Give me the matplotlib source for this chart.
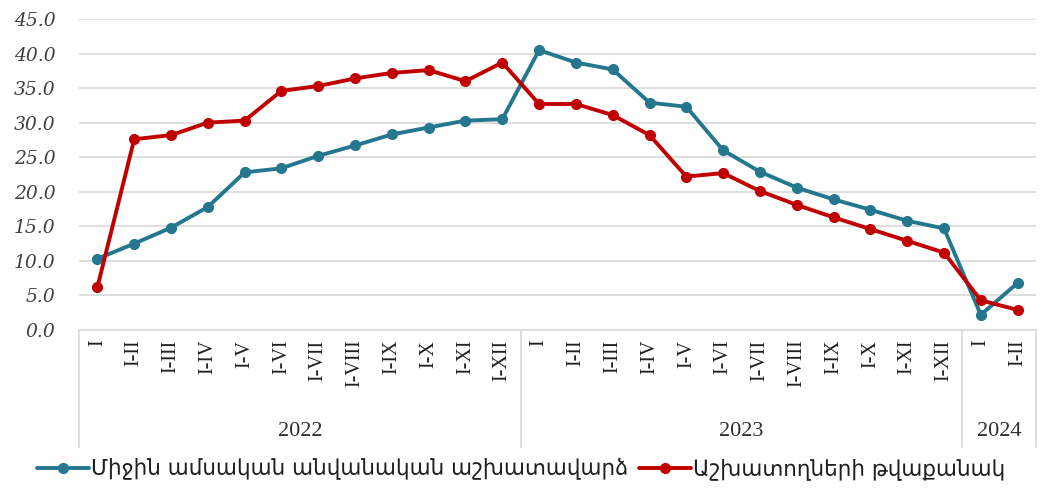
import matplotlib
matplotlib.use("Agg")
import matplotlib.pyplot as plt
from matplotlib.lines import Line2D

months = ["I", "I-II", "I-III", "I-IV", "I-V", "I-VI", "I-VII", "I-VIII", "I-IX", "I-X", "I-XI", "I-XII"]
tick_labels = months + months + ["I", "I-II"]
years = ["2022", "2023", "2024"]
year_counts = [12, 12, 2]

wage = [10.3, 12.5, 14.8, 17.8, 22.8, 23.4, 25.2, 26.7, 28.3, 29.3, 30.3, 30.5,
        40.5, 38.7, 37.7, 32.9, 32.3, 26.0, 22.9, 20.6, 18.9, 17.4, 15.8, 14.7,
        2.2, 6.8]
employees = [6.2, 27.6, 28.2, 30.0, 30.3, 34.6, 35.3, 36.4, 37.2, 37.6, 36.0, 38.7,
             32.7, 32.7, 31.1, 28.2, 22.2, 22.7, 20.1, 18.1, 16.3, 14.6, 12.9, 11.2,
             4.3, 2.9]
series_names = ["Միջին ամսական անվանական աշխատավարձ", "Աշխատողների թվաքանակ"]
colors = ["#24778f", "#c00000"]

W, H = 1042, 490
fig = plt.figure(figsize=(W / 100, H / 100), dpi=100)
L, R, T, B = 79, 1036, 19, 330
ax = fig.add_axes([L / W, 1 - B / H, (R - L) / W, (B - T) / H])

x = list(range(len(tick_labels)))
for vals, name, c in zip([wage, employees], series_names, colors):
    ax.plot(x, vals, color=c, lw=2.8, marker="o", ms=7, label=name,
            solid_capstyle="round", zorder=3)

ax.set_xlim(-0.5, len(x) - 0.5)
ax.set_ylim(0, 45)
ax.set_yticks([i * 5 for i in range(10)])
ax.set_yticklabels([f"{i * 5:.1f}" for i in range(10)],
                   fontfamily="DejaVu Serif", fontstyle="italic", fontsize=13.5, color="#404040")
ax.grid(axis="y", color="#d9d9d9", lw=1.2)
ax.set_axisbelow(True)
for s in ["left", "right", "top"]:
    ax.spines[s].set_visible(False)
ax.spines["bottom"].set_color("#d9d9d9")
ax.spines["bottom"].set_linewidth(1.2)
ax.tick_params(axis="y", length=0, pad=17)
ax.tick_params(axis="x", length=0, pad=7)
ax.set_xticks(x)
ax.set_xticklabels(tick_labels, rotation=90, fontfamily="Liberation Serif", fontsize=14.5, color="#202020")

# group separators and year labels
sep_bottom = -(447 - B) / (B - T)
bounds = [-0.5]
for n in year_counts:
    bounds.append(bounds[-1] + n)
for b in bounds:
    ax.add_line(Line2D([b, b], [0, sep_bottom], transform=ax.get_xaxis_transform(),
                       color="#d9d9d9", lw=1.2, clip_on=False))
year_y = -(432 - B) / (B - T)
for i, yr in enumerate(years):
    ax.text((bounds[i] + bounds[i + 1]) / 2, year_y, yr, transform=ax.get_xaxis_transform(),
            ha="center", va="center", fontfamily="Liberation Serif", fontsize=16, color="#303030")

fig.legend(loc="center", bbox_to_anchor=(0.5, 1 - 469 / H), ncol=2, frameon=False,
           prop={"family": ["DejaVu Sans"], "size": 15.5}, handlelength=2.4,
           handletextpad=0.1, columnspacing=0.5, labelcolor="#202020")

fig.savefig("out.png", dpi=100)
